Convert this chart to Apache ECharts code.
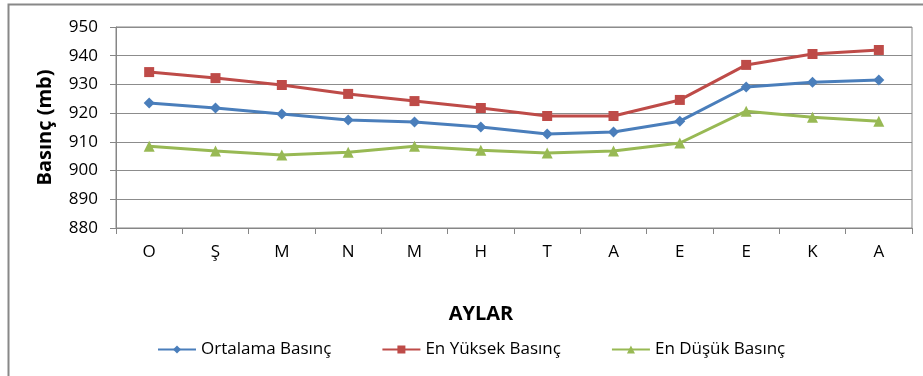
<!DOCTYPE html>
<html><head><meta charset="utf-8">
<script src="https://cdn.jsdelivr.net/npm/echarts@6/dist/echarts.min.js"></script>
<style>html,body{margin:0;padding:0;background:#fff}#c{width:923px;height:376px}</style>
</head><body><div id="c"></div>
<script>
const categories = ['O','Ş','M','N','M','H','T','A','E','E','K','A'];
const ortalama = [923.5, 921.8, 919.7, 917.6, 916.9, 915.2, 912.7, 913.4, 917.2, 929.1, 930.8, 931.5];
const enYuksek = [934.3, 932.2, 929.8, 926.7, 924.2, 921.8, 919.0, 919.0, 924.6, 936.8, 940.6, 942.0];
const enDusuk  = [908.5, 906.8, 905.4, 906.4, 908.5, 907.1, 906.1, 906.8, 909.6, 920.7, 918.6, 917.2];
const seriesNames = ['Ortalama Basınç','En Yüksek Basınç','En Düşük Basınç'];

const font = 'Open Sans';
const chart = echarts.init(document.getElementById('c'));
chart.setOption({
  animation:false,
  textStyle:{fontFamily:font},
  graphic:[{type:'rect',shape:{x:8.5,y:4.5,width:1000,height:500},style:{fill:'none',stroke:'#888',lineWidth:2}}],
  grid:{left:116,right:11,top:27,bottom:148,show:true,borderColor:'#868686',borderWidth:1},
  legend:{top:336,left:152,itemGap:50,itemWidth:38,itemHeight:10,
    textStyle:{fontFamily:font,fontSize:17,color:'#000'},
    data:seriesNames},
  xAxis:{type:'category',data:categories,boundaryGap:true,
    name:'AYLAR',nameLocation:'middle',nameGap:76,
    nameTextStyle:{fontFamily:font,fontSize:20,fontWeight:'bold',color:'#000',padding:[0,66,0,0]},
    axisLine:{lineStyle:{color:'#868686'}},
    axisTick:{show:true,length:6,lineStyle:{color:'#868686'}},
    axisLabel:{fontSize:17,color:'#000',margin:16}},
  yAxis:{type:'value',min:880,max:950,interval:10,
    name:'Basınç (mb)',nameLocation:'middle',nameGap:61,
    nameTextStyle:{fontFamily:font,fontSize:20,fontWeight:'bold',color:'#000'},
    axisLine:{show:true,lineStyle:{color:'#868686'}},
    axisTick:{show:true,length:6,lineStyle:{color:'#868686'}},
    axisLabel:{fontSize:17,color:'#000',margin:18},
    splitLine:{lineStyle:{color:'#8c8c8c'}}},
  series:[
    {name:seriesNames[0],type:'line',data:ortalama,symbol:'diamond',symbolSize:11,
      itemStyle:{color:'#4A7EBB'},lineStyle:{width:3,color:'#4A7EBB'}},
    {name:seriesNames[1],type:'line',data:enYuksek,symbol:'rect',symbolSize:10,
      itemStyle:{color:'#BE4B48'},lineStyle:{width:3,color:'#BE4B48'}},
    {name:seriesNames[2],type:'line',data:enDusuk,symbol:'triangle',symbolSize:11,
      itemStyle:{color:'#98B954'},lineStyle:{width:3,color:'#98B954'}}
  ]
});
</script></body></html>
